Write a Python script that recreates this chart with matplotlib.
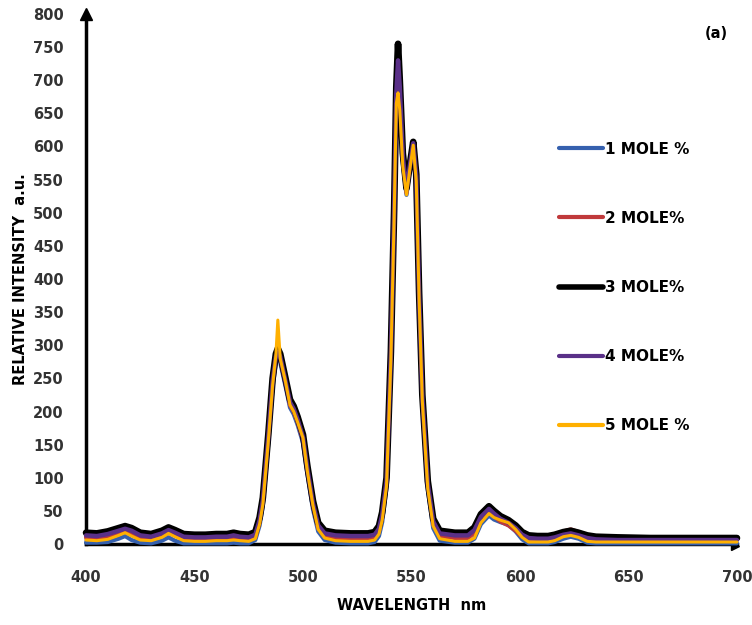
import matplotlib
matplotlib.use("Agg")
import matplotlib.pyplot as plt

wavelength = [400, 405, 410, 415, 418, 421, 425, 430, 435, 438,
              441, 445, 450, 455, 460, 465, 468, 471,
              475, 478, 480, 481.5, 484, 486, 487.5, 488.4, 489.5, 491.8,
              494, 495.7, 497.5, 500, 502, 504.6, 507, 510,
              515, 522, 530, 533, 535, 536.5, 538.5, 540.5, 542, 543,
              543.8, 544.6, 546, 547.7, 549.2, 550.8, 552.2, 553.5, 555, 557.5,
              560, 563, 570, 576, 579, 582, 585.7, 588, 591, 594.7,
              598, 601, 604, 608, 613, 616, 620, 623.4, 627, 631,
              635, 645, 660, 680, 700]

mole3 = [17, 16, 19, 24, 27, 24, 17, 15, 20, 25,
         21, 15, 14, 14, 15, 15, 17, 15,
         14, 18, 40, 70, 165, 250, 287, 295, 287, 252,
         218, 208, 192, 165, 118, 65, 32, 20,
         17, 16, 16, 18, 27, 48, 100, 290, 505, 690,
         755, 700, 590, 537, 572, 607, 558, 380, 225, 95,
         38, 20, 17, 17, 25, 45, 57, 50, 42, 36,
         28, 18, 13, 12, 12, 14, 18, 20, 17, 13,
         11, 10, 9, 9, 9]

mole4 = [13, 12, 15, 20, 23, 20, 13, 11, 16, 21,
         17, 11, 10, 10, 11, 11, 13, 11,
         10, 14, 36, 66, 161, 246, 283, 290, 283, 248,
         214, 204, 188, 161, 114, 61, 28, 16,
         13, 12, 12, 14, 23, 44, 95, 285, 500, 680,
         730, 690, 585, 533, 570, 605, 555, 376, 221, 91,
         34, 16, 13, 13, 21, 41, 53, 46, 38, 32,
         24, 14, 9, 8, 8, 10, 14, 16, 13, 9,
         7, 6, 6, 6, 6]

mole2 = [10, 9, 11, 16, 19, 15, 9, 8, 12, 17,
         13, 8, 7, 7, 8, 8, 9, 8,
         7, 10, 33, 62, 157, 242, 279, 285, 279, 244,
         210, 200, 184, 157, 110, 57, 24, 12,
         9, 8, 8, 10, 19, 40, 91, 280, 495, 670,
         700, 670, 580, 530, 567, 603, 552, 373, 218, 87,
         30, 12, 9, 9, 17, 37, 49, 42, 34, 28,
         20, 11, 8, 8, 9, 13, 19, 22, 18, 13,
         11, 10, 10, 10, 10]

mole1 = [2, 2, 3, 8, 12, 6, 2, 1, 5, 10,
         5, 1, 1, 1, 1, 1, 2, 1,
         1, 6, 28, 57, 152, 237, 274, 282, 274, 240,
         206, 196, 180, 153, 106, 52, 19, 6,
         2, 1, 1, 3, 12, 33, 85, 275, 490, 660,
         680, 660, 575, 527, 565, 600, 549, 370, 215, 82,
         24, 5, 2, 2, 8, 30, 43, 37, 33, 29,
         19, 7, 1, 1, 1, 3, 8, 11, 8, 2,
         1, 1, 1, 1, 1]

mole5 = [6, 5, 7, 13, 17, 12, 6, 5, 10, 16,
         11, 5, 4, 4, 5, 5, 6, 5,
         4, 8, 30, 60, 155, 240, 285, 338, 280, 247,
         210, 200, 184, 160, 110, 58, 22, 9,
         5, 4, 4, 6, 15, 36, 88, 278, 492, 665,
         681, 655, 570, 527, 565, 602, 548, 370, 215, 84,
         27, 8, 4, 4, 9, 32, 46, 40, 36, 32,
         22, 10, 3, 3, 3, 5, 11, 13, 10, 4,
         3, 3, 3, 3, 3]

series_labels = ["1 MOLE %", "2 MOLE%", "3 MOLE%", "4 MOLE%", "5 MOLE %"]
x_ticks = [400, 450, 500, 550, 600, 650, 700]
y_ticks = list(range(0, 801, 50))

series = [mole1, mole2, mole3, mole4, mole5]
colors = ["#3560AE", "#C0393B", "#000000", "#5A3088", "#FFB000"]
widths = [3.0, 3.0, 4.8, 3.2, 2.2]

fig = plt.figure(figsize=(7.52, 6.25), dpi=100)
ax = fig.add_axes([0.1144, 0.1296, 0.8656, 0.848])

lines = []
for vals, lab, c, lw in zip(series, series_labels, colors, widths):
    ln, = ax.plot(wavelength, vals, color=c, lw=lw, label=lab,
                  solid_capstyle="round", solid_joinstyle="round", clip_on=False)
    lines.append(ln)

ax.set_xlim(400, 700)
ax.set_ylim(0, 800)
ax.set_xticks(x_ticks)
ax.set_yticks(y_ticks)
ax.tick_params(length=0, labelsize=10.5, colors="#333333", pad=16)
ax.tick_params(axis="x", pad=19)
for t in ax.get_xticklabels() + ax.get_yticklabels():
    t.set_fontweight("bold")

for s in ["top", "right"]:
    ax.spines[s].set_visible(False)
ax.spines["left"].set_linewidth(2.5)
ax.spines["bottom"].set_linewidth(2.5)
ax.spines["left"].set_zorder(0.5)
ax.spines["bottom"].set_zorder(0.5)

# axis arrows
ax.plot([400], [800], marker="^", color="black", markersize=8, clip_on=False, zorder=5)
ax.plot([699], [-3], marker=">", color="black", markersize=6, clip_on=False, zorder=0.6)

ax.set_xlabel("WAVELENGTH  nm", fontsize=10.5, fontweight="bold", labelpad=9)
ax.set_ylabel("RELATIVE INTENSITY  a.u.", fontsize=10.5, fontweight="bold", labelpad=4)

fig.text(0.952, 0.947, "(a)", fontsize=10.5, fontweight="bold", ha="center", va="center")

leg = ax.legend(handles=lines, loc="upper left", bbox_to_anchor=(0.705, 0.785),
                frameon=False, handlelength=2.9, handletextpad=0.1,
                labelspacing=3.54, prop={"weight": "bold", "size": 11})
for h, lw in zip(leg.legend_handles, [3, 3, 4, 3, 3]):
    h.set_linewidth(lw)

fig.savefig("out.png", dpi=100)
